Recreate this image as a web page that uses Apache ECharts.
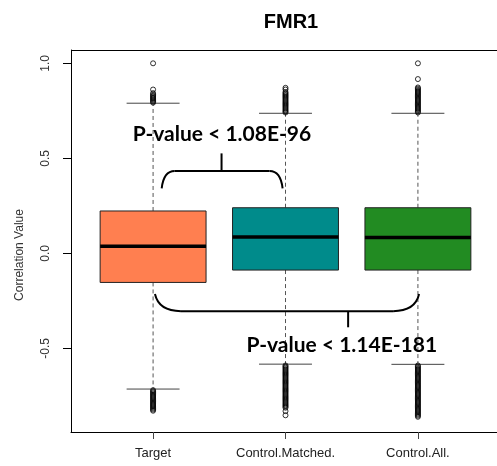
<!DOCTYPE html>
<html>
<head>
<meta charset="utf-8">
<script src="https://cdn.jsdelivr.net/npm/echarts@6/dist/echarts.min.js"></script>
<style>html,body{margin:0;padding:0;background:#fff;overflow:hidden}#c{width:497px;height:466px}</style>
</head>
<body>
<div id="c"></div>
<script>
// ---- data ----
const title = 'FMR1';
const yName = 'Correlation Value';
const categories = ['Target', 'Control.Matched.', 'Control.All.'];
const yTicks = [-0.5, 0.0, 0.5, 1.0];
// [lower whisker, Q1, median, Q3, upper whisker]
const statsTarget  = [-0.714, -0.153, 0.038, 0.223, 0.790];
const statsMatched = [-0.583, -0.088, 0.086, 0.240, 0.737];
const statsAll     = [-0.584, -0.088, 0.084, 0.240, 0.737];
const outTarget = [1.0, 0.862, 0.843, 0.835, 0.829, 0.823, 0.817, 0.811, 0.805, 0.799, 0.793,
  -0.720, -0.726, -0.732, -0.738, -0.744, -0.750, -0.756, -0.762, -0.768, -0.774, -0.780,
  -0.786, -0.792, -0.798, -0.804, -0.810, -0.816, -0.822, -0.828];
const outMatched = [0.871, 0.862, 0.849, 0.843, 0.837, 0.831, 0.825, 0.819, 0.813, 0.807, 0.801,
  0.795, 0.789, 0.783, 0.777, 0.771, 0.765, 0.759, 0.753, 0.747, 0.741,
  -0.590, -0.596, -0.602, -0.608, -0.614, -0.620, -0.626, -0.632, -0.638, -0.644, -0.650,
  -0.656, -0.662, -0.668, -0.674, -0.680, -0.686, -0.692, -0.698, -0.704, -0.710, -0.716,
  -0.722, -0.728, -0.734, -0.740, -0.746, -0.752, -0.758, -0.764, -0.770, -0.776, -0.782,
  -0.788, -0.794, -0.800, -0.806, -0.812, -0.830, -0.852];
const outAll = [1.0, 0.917, 0.873, 0.867, 0.861, 0.855, 0.849, 0.843, 0.837, 0.831, 0.825,
  0.819, 0.813, 0.807, 0.801, 0.795, 0.789, 0.783, 0.777, 0.771, 0.765, 0.759, 0.753, 0.747, 0.741,
  -0.590, -0.596, -0.602, -0.608, -0.614, -0.620, -0.626, -0.632, -0.638, -0.644, -0.650,
  -0.656, -0.662, -0.668, -0.674, -0.680, -0.686, -0.692, -0.698, -0.704, -0.710, -0.716,
  -0.722, -0.728, -0.734, -0.740, -0.746, -0.752, -0.758, -0.764, -0.770, -0.776, -0.782,
  -0.788, -0.794, -0.800, -0.806, -0.812, -0.818, -0.824, -0.830, -0.836, -0.842, -0.848,
  -0.854, -0.860];
const pText1 = 'P-value < 1.08E-96';
const pText2 = 'P-value < 1.14E-181';

// ---- styling ----
const boxColors = ['#FF7F50', '#008B8B', '#228B22'];
const allStats = [statsTarget, statsMatched, statsAll];
const allOut = [outTarget, outMatched, outAll];

const boxData = allStats.map((s, i) => [i + 1].concat(s));
const outData = [];
allOut.forEach((arr, i) => arr.forEach(v => outData.push([i + 1, v])));

const chart = echarts.init(document.getElementById('c'), null, {renderer: 'canvas'});
const FONT = 'Liberation Sans, Arial, sans-serif';

chart.setOption({
  animation: false,
  backgroundColor: '#fff',
  title: {
    text: title, left: 286, top: 7, textAlign: 'center',
    textStyle: {fontSize: 20, fontWeight: 'bold', fontFamily: FONT, color: '#000'}
  },
  grid: {left: 71, top: 50, width: 429, height: 382, show: false, containLabel: false, outerBoundsMode: 'none'},
  xAxis: {
    type: 'value', min: 0.38, max: 3.62, position: 'bottom',
    axisLine: {show: true, onZero: false, lineStyle: {color: '#000', width: 1}},
    axisTick: {show: true, customValues: [1, 2, 3], length: 7, lineStyle: {color: '#444'}},
    axisLabel: {
      show: true, customValues: [1, 2, 3], margin: 15,
      formatter: v => categories[Math.round(v) - 1] || '',
      fontSize: 13, fontFamily: FONT, color: '#222'
    },
    splitLine: {show: false}
  },
  yAxis: {
    type: 'value', min: -0.94, max: 1.07,
    axisLine: {show: true, onZero: false, lineStyle: {color: '#000', width: 1}},
    axisTick: {show: true, customValues: yTicks, length: 8, lineStyle: {color: '#000'}},
    axisLabel: {
      show: true, customValues: yTicks, rotate: 90, margin: 19,
      formatter: v => v.toFixed(1),
      fontSize: 12, fontFamily: FONT, color: '#333'
    },
    splitLine: {show: false}
  },
  series: [
    {
      type: 'custom',
      data: boxData,
      encode: {x: 0, y: [1, 2, 3, 4, 5]},
      renderItem: function (params, api) {
        const x = api.value(0);
        const lo = api.value(1), q1 = api.value(2), med = api.value(3), q3 = api.value(4), hi = api.value(5);
        const bw = api.size([0.8, 0])[0];
        const sw = api.size([0.4, 0])[0];
        const c = v => api.coord([x, v]);
        const pLo = c(lo), pQ1 = c(q1), pMed = c(med), pQ3 = c(q3), pHi = c(hi);
        const cx = pMed[0];
        const dash = {stroke: '#555', lineWidth: 1, lineDash: [4, 3]};
        const solid = {stroke: '#444', lineWidth: 1};
        return {
          type: 'group',
          children: [
            {type: 'line', shape: {x1: cx, y1: pQ3[1], x2: cx, y2: pHi[1]}, style: dash},
            {type: 'line', shape: {x1: cx, y1: pQ1[1], x2: cx, y2: pLo[1]}, style: dash},
            {type: 'line', shape: {x1: cx - sw / 2, y1: pHi[1], x2: cx + sw / 2, y2: pHi[1]}, style: solid},
            {type: 'line', shape: {x1: cx - sw / 2, y1: pLo[1], x2: cx + sw / 2, y2: pLo[1]}, style: solid},
            {type: 'rect', shape: {x: cx - bw / 2, y: pQ3[1], width: bw, height: pQ1[1] - pQ3[1]},
              style: {fill: boxColors[params.dataIndex], stroke: '#222', lineWidth: 1}},
            {type: 'line', shape: {x1: cx - bw / 2, y1: pMed[1], x2: cx + bw / 2, y2: pMed[1]},
              style: {stroke: '#000', lineWidth: 3.5}}
          ]
        };
      },
      z: 2
    },
    {
      type: 'scatter',
      data: outData,
      symbol: 'circle',
      symbolSize: 5,
      itemStyle: {color: 'rgba(0,0,0,0)', borderColor: '#000', borderWidth: 1},
      silent: true,
      z: 3
    }
  ]
});

// annotations placed in data coordinates
const P = (x, y) => chart.convertToPixel({xAxisIndex: 0, yAxisIndex: 0}, [x, y]);
const LS = {stroke: '#000', lineWidth: 2, fill: null};
function bracket(x1, x2, yEnd, yBar, tickX, yTick, cornerW) {
  const a = P(x1, yEnd), b = P(x2, yEnd), bar = P(x1, yBar)[1];
  const t = P(tickX, yTick);
  return [
    {type: 'bezierCurve', z: 10, shape: {x1: a[0], y1: a[1], x2: a[0] + cornerW, y2: bar, cpx1: a[0] + cornerW * 0.15, cpy1: bar}, style: LS},
    {type: 'line', z: 10, shape: {x1: a[0] + cornerW, y1: bar, x2: b[0] - cornerW, y2: bar}, style: LS},
    {type: 'bezierCurve', z: 10, shape: {x1: b[0] - cornerW, y1: bar, x2: b[0], y2: b[1], cpx1: b[0] - cornerW * 0.15, cpy1: bar}, style: LS},
    {type: 'line', z: 10, shape: {x1: t[0], y1: bar, x2: t[0], y2: t[1]}, style: LS}
  ];
}
const topL = P(0.38, 1.07), topR = P(3.62, 1.07);
const t1 = P(1.52, 0.625), t2 = P(2.425, -0.485);
const gr = []
  .concat([{type: 'line', z: 5, shape: {x1: topL[0], y1: Math.round(topL[1]) + 0.5, x2: topR[0], y2: Math.round(topR[1]) + 0.5},
    style: {stroke: '#000', lineWidth: 1}}])
  .concat(bracket(1.065, 1.978, 0.342, 0.433, 1.517, 0.526, 13))
  .concat(bracket(1.014, 3.009, -0.214, -0.304, 2.473, -0.389, 26))
  .concat([
    {type: 'text', z: 10, style: {text: pText1, x: t1[0], y: t1[1], align: 'center', verticalAlign: 'middle',
      font: 'bold 21px Lato, sans-serif', fill: '#000'}},
    {type: 'text', z: 10, style: {text: pText2, x: t2[0], y: t2[1], align: 'center', verticalAlign: 'middle',
      font: 'bold 21px Lato, sans-serif', fill: '#000'}},
    {type: 'text', z: 10, x: 20, y: 255, rotation: Math.PI / 2,
      style: {text: yName, x: 0, y: 0, align: 'center', verticalAlign: 'middle',
      font: '12px Liberation Sans, Arial, sans-serif', fill: '#333'}}
  ]);
chart.setOption({graphic: gr});
</script>
</body>
</html>
